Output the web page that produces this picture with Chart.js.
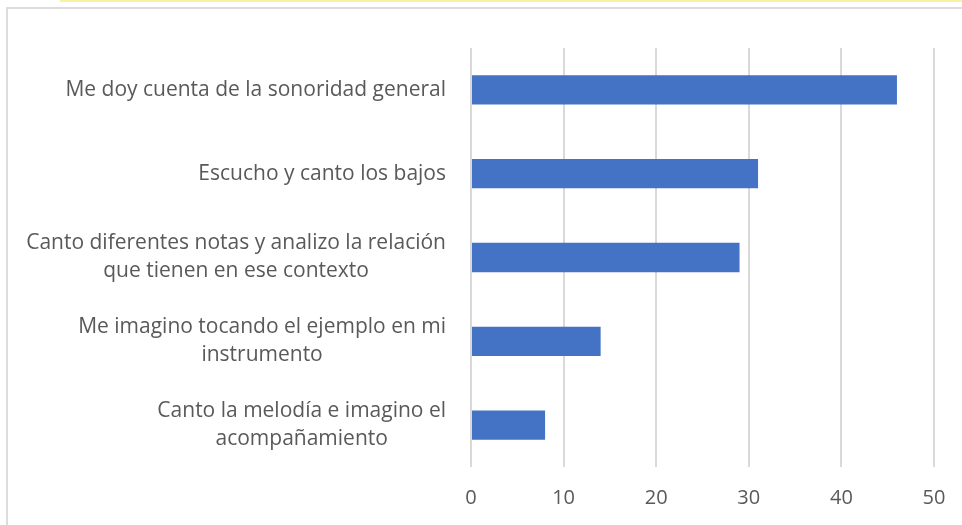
<!DOCTYPE html>
<html>
<head>
<meta charset="utf-8">
<script src="https://cdn.jsdelivr.net/npm/chart.js@4.4.1/dist/chart.umd.min.js"></script>
<style>
  html, body { margin: 0; padding: 0; background: #fff; overflow: hidden; }
  #wrap { position: relative; width: 962px; height: 525px; }
  #franja { position: absolute; left: 60px; top: 0; width: 902px; height: 2px; background: #f7f3a0; }
  #marco { position: absolute; left: 6px; top: 7px; width: 1000px; height: 600px; border: 2px solid #dcdcdc; box-sizing: border-box; }
  canvas { position: absolute; left: 0; top: 0; }
</style>
</head>
<body>
<div id="wrap">
  <div id="franja"></div>
  <div id="marco"></div>
  <canvas id="grafico" width="962" height="525"></canvas>
</div>
<script>
// categorias (de arriba hacia abajo) y valores
const categorias = [
    ['Me doy cuenta de la sonoridad general'],
    ['Escucho y canto los bajos'],
    ['Canto diferentes notas y analizo la relación', 'que tienen en ese contexto'],
    ['Me imagino tocando el ejemplo en mi', 'instrumento'],
    ['Canto la melodía e imagino el', 'acompañamiento']
];
const valores = [46, 31, 29, 14, 8];
const ticksX = [0, 10, 20, 30, 40, 50];

const fuente = '"Open Sans", Lato, sans-serif';
const grisTexto = '#595959';

// etiquetas del eje Y: lineas centradas entre si, bloque alineado a la derecha
const etiquetasY = {
    id: 'etiquetasY',
    afterDraw(chart) {
        const ctx = chart.ctx;
        const y = chart.scales.y;
        const derecha = chart.chartArea.left - 25;
        const alto = 28;
        ctx.save();
        ctx.font = '21px ' + fuente;
        ctx.fillStyle = grisTexto;
        ctx.textAlign = 'center';
        ctx.textBaseline = 'middle';
        categorias.forEach((lineas, i) => {
            const yc = y.getPixelForTick(i);
            const ancho = Math.max(...lineas.map(l => ctx.measureText(l).width));
            const xc = derecha - ancho / 2;
            const y0 = yc - (lineas.length - 1) * alto / 2;
            lineas.forEach((l, j) => ctx.fillText(l, xc, y0 + j * alto));
        });
        ctx.restore();
    }
};

const ctx = document.getElementById('grafico').getContext('2d');
const myChart = new Chart(ctx, {
    type: 'bar',
    data: {
        labels: categorias.map(c => c.join(' ')),
        datasets: [{
            data: valores,
            backgroundColor: '#4472C4',
            borderWidth: 0,
            categoryPercentage: 1,
            barPercentage: 0.35
        }]
    },
    options: {
        indexAxis: 'y',
        responsive: false,
        animation: false,
        layout: { padding: { left: 471, right: 28, top: 48, bottom: 0 } },
        plugins: { legend: { display: false }, tooltip: { enabled: false } },
        scales: {
            x: {
                min: 0,
                max: 50,
                afterBuildTicks: (s) => { s.ticks = ticksX.map(v => ({ value: v })); },
                afterFit: (s) => { s.height = 58; s.paddingLeft = 0; s.paddingRight = 0; },
                grid: { color: '#d9d9d9', lineWidth: 2, drawTicks: false },
                border: { display: false },
                ticks: { color: grisTexto, font: { family: fuente, size: 20 }, padding: 19 }
            },
            y: {
                display: false
            }
        }
    },
    plugins: [etiquetasY]
});
</script>
</body>
</html>
